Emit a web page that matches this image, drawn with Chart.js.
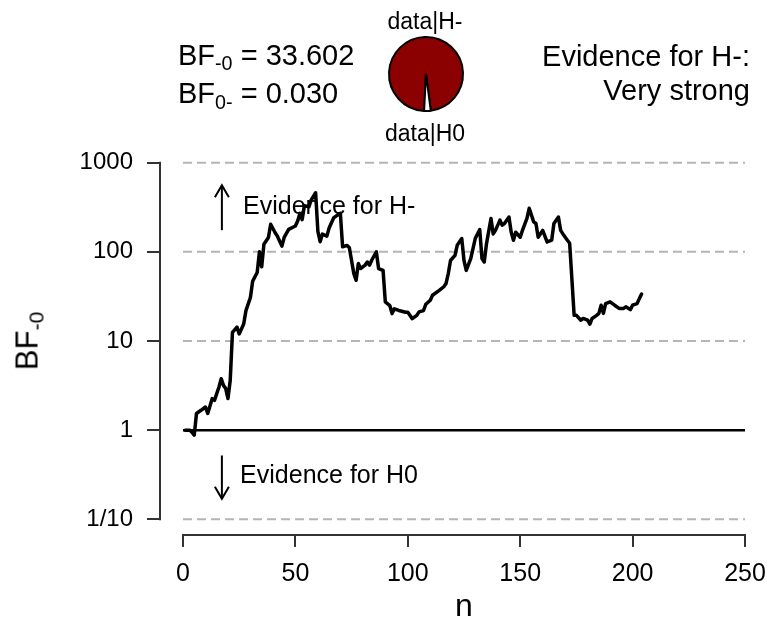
<!DOCTYPE html>
<html>
<head>
<meta charset="utf-8">
<script src="https://cdn.jsdelivr.net/npm/chart.js@4.4.1/dist/chart.umd.min.js"></script>
<style>
html,body{margin:0;padding:0;background:#fff;}
#wrap{position:relative;width:769px;height:624px;overflow:hidden;font-family:"Liberation Sans",Arial,Helvetica,sans-serif;color:#000;}
#main{position:absolute;left:0;top:0;}
#pie{position:absolute;left:386px;top:34px;}
.t{position:absolute;white-space:nowrap;line-height:1;}
.t sub{font-size:0.68em;vertical-align:baseline;position:relative;top:0.3em;}
#ytitle{position:absolute;left:0;top:0;width:0;height:0;}
#ytitle div{position:absolute;white-space:nowrap;line-height:1;font-size:31px;transform:translate(-50%,-50%) rotate(-90deg);}
</style>
</head>
<body>
<div id="wrap">
  <canvas id="main" width="769" height="624"></canvas>
  <canvas id="pie" width="80" height="80"></canvas>
  <div class="t" style="left:178px;top:40.5px;font-size:29px;">BF<sub>-0</sub> = 33.602</div>
  <div class="t" style="left:178px;top:79px;font-size:29px;">BF<sub>0-</sub> = 0.030</div>
  <div class="t" style="right:19px;top:42px;font-size:29px;text-align:right;">Evidence for H-:</div>
  <div class="t" style="right:19px;top:75.5px;font-size:29px;text-align:right;">Very strong</div>
  <div class="t" style="left:425px;top:10px;font-size:23px;transform:translateX(-50%);">data|H-</div>
  <div class="t" style="left:425px;top:121.5px;font-size:23px;transform:translateX(-50%);">data|H0</div>
  <div id="ytitle" style="left:27px;top:341px;"><div>BF<sub style="font-size:0.68em;vertical-align:baseline;position:relative;top:0.3em;">-0</sub></div></div>
  <div class="t" style="left:464px;top:589px;font-size:32px;transform:translateX(-50%);">n</div>
</div>
<script>
// ---- data ----
const nValues = [1,2,3,4,5,6,8,10,11,13,
 14,16,17,18,19,20,21,22,24,25,
 27,28,30,31,33,34,35,36,38,39,
 41,42,44,45,47,50,51,52,53,54,
 56,57,59,60,61,62,64,65,67,69,
 70,71,73,74,76,77,78,79,81,82,
 83,84,86,87,89,90,92,93,94,96,
 99,100,102,104,105,107,108,110,111,114,
 116,117,118,119,121,122,124,125,126,128,
 129,130,132,133,134,135,137,138,139,141,
 142,143,145,146,147,148,150,151,153,154,
 156,157,158,160,162,164,165,167,168,169,
 171,172,174,175,177,178,180,181,182,184,
 185,186,187,188,190,192,194,196,197,199,
 200,202,203,204];
const bfValues = [1,1,1,0.95,0.88,1.54,1.67,1.82,1.54,2.26,
 2.16,3.05,3.78,3.18,2.93,2.26,3.6,12.5,14.3,12,
 15.5,21.9,30.9,47,58.6,100,68,122,145,204,
 164,150,116,145,179,195,222,270,230,330,
 320,380,460,170,130,158,150,185,240,262,
 270,114,118,111,57,48,74,65,71,77,
 71,81,100,65,62,27.4,25,20.3,23,22,
 21,21,17.8,19.4,21.2,22,25.8,28.7,32.6,37,
 40.6,44,57,80,91.5,119,141,80,62,84,
 109,141,178,84,77,123,237,159,174,227,
 199,208,246,166,135,166,146,174,237,308,
 217,208,146,174,129,135,208,246,174,159,
 135,125,19.4,19.4,17.1,17.9,17.1,15.5,17.9,19.4,
 20.4,25.2,20.4,26.3,27.5,25.2,23.2,23.2,24.2,22.5,
 25.2,26.3,29.9,33.602];
const yTickValues = [0.1, 1, 10, 100, 1000];
const yTickLabels = ['1/10', '1', '10', '100', '1000'];
const xTickValues = [0, 50, 100, 150, 200, 250];
const gridLevels = [1000, 100, 10, 0.1];
const refLevel = 1;
const bfMinus0 = 33.602;
const pieLabels = ['data|H-', 'data|H0'];
const pieValues = [bfMinus0 / (1 + bfMinus0), 1 / (1 + bfMinus0)];

// ---- annotation placement (data space) ----
const arrowUp = {x: 17.3, from: 175, to: 560};
const arrowDown = {x: 17.3, from: 0.52, to: 0.17};
const labelUp = {x: 26.7, y: 321, text: 'Evidence for H-'};
const labelDown = {x: 25.4, y: 0.305, text: 'Evidence for H0'};

const FONT = '"Liberation Sans", Arial, Helvetica, sans-serif';

const lineData = nValues.map((n, i) => ({x: n, y: bfValues[i]}));
const xFrom = xTickValues[0], xTo = xTickValues[xTickValues.length - 1];

const datasets = [{
  data: lineData, borderColor: '#000', borderWidth: 3.5, pointRadius: 0,
  tension: 0, borderJoinStyle: 'round', borderCapStyle: 'round', clip: false
}, {
  data: [{x: xFrom, y: refLevel}, {x: xTo, y: refLevel}],
  borderColor: '#000', borderWidth: 2.5, pointRadius: 0, clip: false
}];
gridLevels.forEach(v => datasets.push({
  data: [{x: xFrom, y: v}, {x: xTo, y: v}],
  borderColor: '#b5b5b5', borderWidth: 2, borderDash: [9, 5], pointRadius: 0, clip: false
}));

function drawArrow(ctx, x, y1, y2) {
  ctx.beginPath(); ctx.moveTo(x, y1); ctx.lineTo(x, y2); ctx.stroke();
  const dir = y2 < y1 ? 1 : -1, L = 14, a = Math.PI / 6;
  ctx.beginPath();
  ctx.moveTo(x - L * Math.sin(a), y2 + dir * L * Math.cos(a));
  ctx.lineTo(x, y2);
  ctx.lineTo(x + L * Math.sin(a), y2 + dir * L * Math.cos(a));
  ctx.stroke();
}

const rPlugin = {
  id: 'rStyle',
  beforeDatasetsDraw(chart) {
    const {ctx, scales: {x, y}} = chart;
    ctx.save();
    ctx.strokeStyle = '#000'; ctx.lineWidth = 2; ctx.lineCap = 'butt';
    drawArrow(ctx, x.getPixelForValue(arrowUp.x), y.getPixelForValue(arrowUp.from), y.getPixelForValue(arrowUp.to));
    drawArrow(ctx, x.getPixelForValue(arrowDown.x), y.getPixelForValue(arrowDown.from), y.getPixelForValue(arrowDown.to));
    ctx.fillStyle = '#000';
    ctx.font = '25px ' + FONT;
    ctx.textAlign = 'left'; ctx.textBaseline = 'middle';
    ctx.fillText(labelUp.text, x.getPixelForValue(labelUp.x), y.getPixelForValue(labelUp.y));
    ctx.fillText(labelDown.text, x.getPixelForValue(labelDown.x), y.getPixelForValue(labelDown.y));
    ctx.restore();
  },
  afterDraw(chart) {
    const {ctx, chartArea, scales: {x, y}} = chart;
    ctx.save();
    ctx.strokeStyle = '#333'; ctx.lineWidth = 2; ctx.lineCap = 'square';
    ctx.beginPath();
    ctx.moveTo(chartArea.left, y.getPixelForValue(yTickValues[0]));
    ctx.lineTo(chartArea.left, y.getPixelForValue(yTickValues[yTickValues.length - 1]));
    ctx.stroke();
    ctx.beginPath();
    ctx.moveTo(x.getPixelForValue(xFrom), chartArea.bottom);
    ctx.lineTo(x.getPixelForValue(xTo), chartArea.bottom);
    ctx.stroke();
    ctx.restore();
  }
};

new Chart(document.getElementById('main'), {
  type: 'line',
  data: {datasets},
  options: {
    responsive: false, animation: false, devicePixelRatio: 1,
    layout: {padding: {left: 0, right: 24, top: 162.7, bottom: 0}},
    plugins: {legend: {display: false}, tooltip: {enabled: false}},
    scales: {
      x: {
        type: 'linear', min: -10.23, max: 250,
        afterBuildTicks: s => { s.ticks = xTickValues.map(v => ({value: v})); },
        afterFit: s => { s.height = 89; s.paddingLeft = 0; s.paddingRight = 20; },
        grid: {drawOnChartArea: false, drawTicks: true, tickLength: 12, color: '#333', lineWidth: 2},
        border: {display: false},
        ticks: {color: '#000', font: {family: FONT, size: 25}, padding: 12, maxRotation: 0, autoSkip: false}
      },
      y: {
        type: 'logarithmic', min: 0.0667, max: 1000,
        afterBuildTicks: s => { s.ticks = yTickValues.map(v => ({value: v})); },
        afterFit: s => { s.width = 160; },
        grid: {drawOnChartArea: false, drawTicks: true, tickLength: 13, color: '#333', lineWidth: 2},
        border: {display: false},
        ticks: {
          color: '#000', font: {family: FONT, size: 24}, padding: 14, autoSkip: false,
          callback: v => { const i = yTickValues.indexOf(v); return i >= 0 ? yTickLabels[i] : ''; }
        }
      }
    }
  },
  plugins: [rPlugin]
});

new Chart(document.getElementById('pie'), {
  type: 'pie',
  data: {labels: pieLabels, datasets: [{
    data: pieValues, backgroundColor: ['#8b0000', '#ffffff'],
    borderColor: '#000', borderWidth: 2
  }]},
  options: {
    responsive: false, animation: false, devicePixelRatio: 1, rotation: 183,
    layout: {padding: 2},
    plugins: {legend: {display: false}, tooltip: {enabled: false}}
  }
});
</script>
</body>
</html>
